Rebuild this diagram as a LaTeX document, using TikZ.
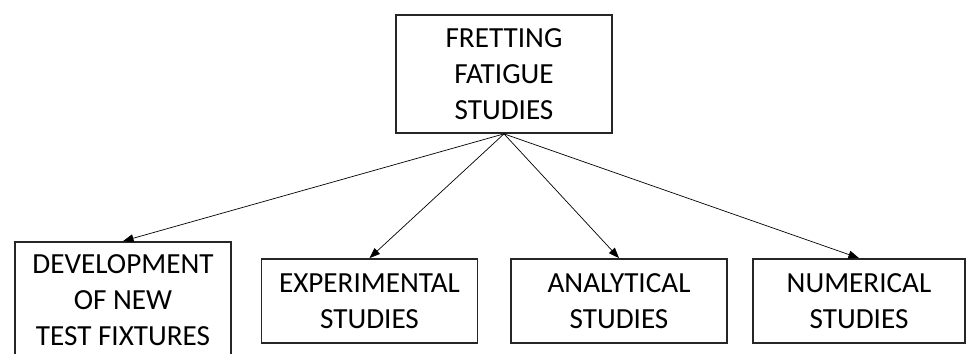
\documentclass[tikz,border=0pt]{standalone}
\usepackage{fontspec}
\setmainfont{Carlito}
\usetikzlibrary{arrows.meta}
\tikzset{
  studybox/.style={draw=black!85,line width=1pt,minimum width=4.32cm,align=center,inner sep=0pt,font=\fontsize{16.6}{20.6}\selectfont},
  link/.style={-{Triangle[length=6pt,width=4.5pt]},line width=0.4pt}
}
\begin{document}
\begin{tikzpicture}
\useasboundingbox (0,0) rectangle (19.32,7.08);
\node[studybox,minimum height=2.36cm] (top) at (10.08,5.6) {FRETTING\\FATIGUE\\STUDIES};
\node[studybox,minimum height=2.32cm] (dev) at (2.46,1.08) {DEVELOPMENT\\OF NEW\\TEST FIXTURES};
\node[studybox,minimum height=1.68cm] (exp) at (7.39,1.06) {EXPERIMENTAL\\STUDIES};
\node[studybox,minimum height=1.68cm] (ana) at (12.38,1.06) {ANALYTICAL\\STUDIES};
\node[studybox,minimum height=1.68cm,minimum width=4.24cm] (num) at (17.18,1.06) {NUMERICAL\\STUDIES};
\draw[link] (top.south) -- (dev.north);
\draw[link] (top.south) -- (exp.north);
\draw[link] (top.south) -- (ana.north);
\draw[link] (top.south) -- (num.north);
\end{tikzpicture}
\end{document}
